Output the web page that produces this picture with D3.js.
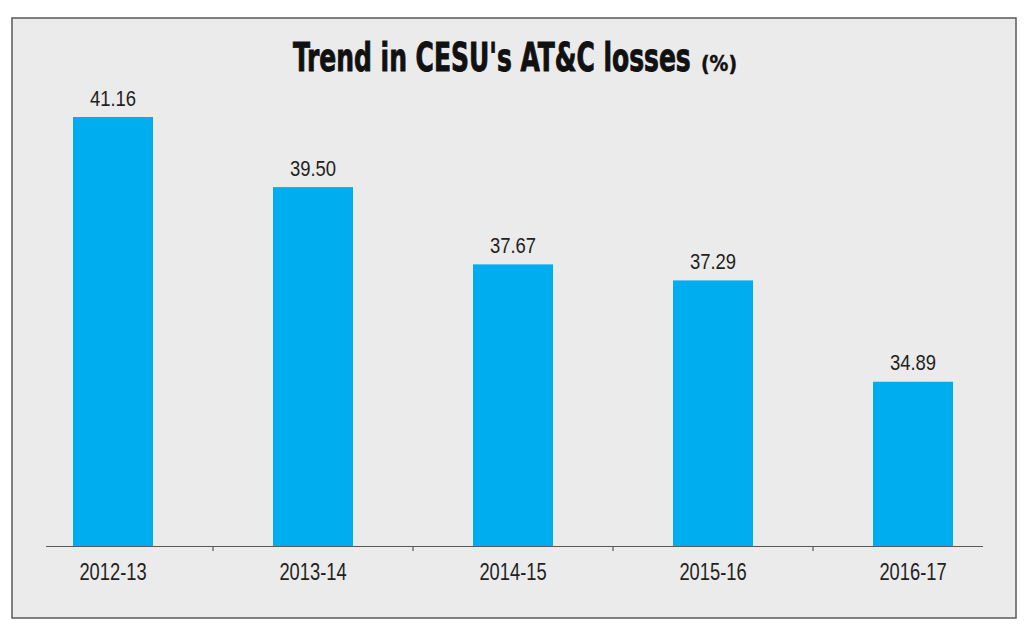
<!DOCTYPE html>
<html><head><meta charset="utf-8">
<script src="https://cdn.jsdelivr.net/npm/d3@7"></script>
<style>
html,body{margin:0;padding:0;background:#fff;}
svg{display:block;}
</style></head>
<body>
<svg id="chart" width="1024" height="629"></svg>
<script>
const categories = ["2012-13","2013-14","2014-15","2015-16","2016-17"];
const values = [41.16, 39.50, 37.67, 37.29, 34.89];
const valueLabels = ["41.16","39.50","37.67","37.29","34.89"];
const titleMain = "Trend in CESU's AT&C losses";
const titleUnit = "(%)";

const svg = d3.select("#chart");
// panel
svg.append("rect").attr("x",12).attr("y",18).attr("width",1004).attr("height",600)
  .attr("fill","#ecebec").attr("stroke","#5a5a5a").attr("stroke-width",1.5);

const x = d3.scaleBand().domain(categories).range([13,1013]).paddingInner(0.6).paddingOuter(0.3);
const y = d3.scaleLinear().domain([31, 41.16]).range([546, 117]);

// bars
svg.append("g").selectAll("rect").data(values).join("rect")
  .attr("x",(d,i)=>x(categories[i]))
  .attr("y",d=>y(d))
  .attr("width",x.bandwidth())
  .attr("height",d=>y(31)-y(d))
  .attr("fill","#00aeef");

const labelFont = "'Liberation Sans',Arial,sans-serif";
// value labels (condensed via horizontal scale)
svg.append("g").selectAll("text").data(values).join("text")
  .attr("transform",(d,i)=>`translate(${x(categories[i])+x.bandwidth()/2},${y(d)-11.5}) scale(0.84,1)`)
  .attr("text-anchor","middle")
  .attr("font-family",labelFont)
  .attr("font-size",22)
  .attr("fill","#231f20")
  .text((d,i)=>valueLabels[i]);

// axis line
svg.append("line").attr("x1",46).attr("x2",983).attr("y1",546.5).attr("y2",546.5)
  .attr("stroke","#5a5a5a").attr("stroke-width",1.2);
// boundary ticks
const step = x.step();
svg.append("g").selectAll("line").data(categories.slice(1)).join("line")
  .attr("x1",d=>x(d)-(step-x.bandwidth())/2)
  .attr("x2",d=>x(d)-(step-x.bandwidth())/2)
  .attr("y1",546.5).attr("y2",551)
  .attr("stroke","#5a5a5a").attr("stroke-width",1.2);

// category labels
svg.append("g").selectAll("text").data(categories).join("text")
  .attr("transform",d=>`translate(${x(d)+x.bandwidth()/2},580) scale(0.78,1)`)
  .attr("text-anchor","middle")
  .attr("font-family",labelFont)
  .attr("font-size",23.5)
  .attr("fill","#231f20")
  .text(d=>d);

// title, fitted horizontally with a scale transform
const titleFont = "Impact,'DejaVu Sans Condensed','DejaVu Sans',sans-serif";
function fitText(str, x0, targetW, size, sw){
  const t = svg.append("text")
    .attr("font-family",titleFont).attr("font-weight","bold").attr("font-stretch","condensed")
    .attr("font-size",size).attr("fill","#111").attr("stroke","#111").attr("stroke-width",sw)
    .text(str);
  const w = t.node().getComputedTextLength();
  t.attr("transform",`translate(${x0},71) scale(${targetW/w},1)`);
  return t;
}
fitText(titleMain, 293, 398, 38.5, 0.9);
fitText(titleUnit, 701, 36, 22, 0.5);
</script>
</body></html>
